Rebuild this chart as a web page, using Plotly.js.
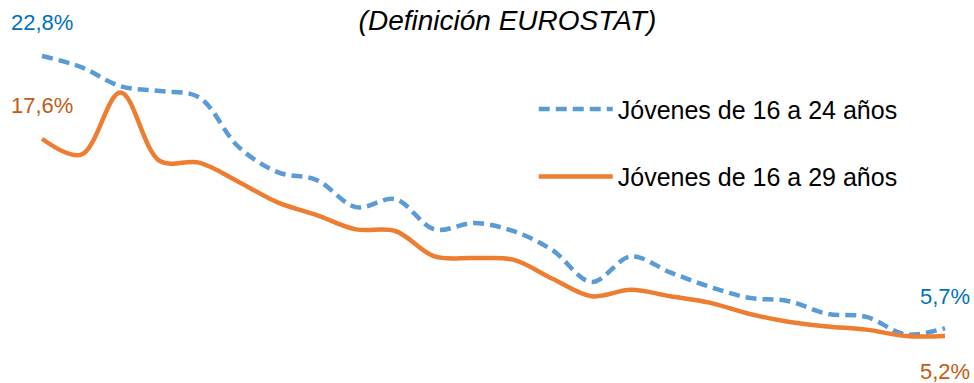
<!DOCTYPE html>
<html>
<head>
<meta charset="utf-8">
<script src="https://cdn.plot.ly/plotly-3.0.1.min.js"></script>
<style>html,body{margin:0;padding:0;background:#fff}#chart{width:974px;height:383px}</style>
</head>
<body>
<div id="chart"></div>
<script>
// Periods (24 consecutive observations)
var periodos = [1,2,3,4,5,6,7,8,9,10,11,12,13,14,15,16,17,18,19,20,21,22,23,24];
// Jóvenes de 16 a 24 años (%)
var jovenes16a24 = [22.8,22.1,20.9,20.6,20.2,17.1,15.5,15.0,13.3,13.8,11.9,12.3,11.8,10.6,8.6,10.2,9.2,8.3,7.6,7.4,6.6,6.4,5.3,5.7];
// Jóvenes de 16 a 29 años (%)
var jovenes16a29 = [17.6,16.6,20.5,16.2,16.1,14.9,13.6,12.8,11.9,11.8,10.2,10.1,10.0,8.8,7.7,8.1,7.7,7.3,6.6,6.1,5.8,5.6,5.2,5.2];
var nombres = ["Jóvenes de 16 a 24 años", "Jóvenes de 16 a 29 años"];
var titulo = "(Definición EUROSTAT)";

function etiqueta(v){ return v.toFixed(1).replace(".", ",") + "%"; }

var azul = "#5B9BD5", naranja = "#ED7D31";
var n = periodos.length;

var traces = [
  {x: periodos, y: jovenes16a24, name: nombres[0], type: "scatter", mode: "lines",
   line: {color: azul, width: 4.5, dash: "11px,6px", shape: "spline", smoothing: 1}, legendgroup: "a"},
  {x: periodos, y: jovenes16a29, name: nombres[1], type: "scatter", mode: "lines",
   line: {color: naranja, width: 4.5, shape: "spline", smoothing: 1}, legendgroup: "b"}
];

var labFont = {family: "Liberation Sans, Arial, sans-serif", size: 22};
var annotations = [
  {x: periodos[0], y: jovenes16a24[0], text: etiqueta(jovenes16a24[0]), showarrow: false, yshift: 34, font: Object.assign({}, labFont, {color: "#0070C0"})},
  {x: periodos[0], y: jovenes16a29[0], text: etiqueta(jovenes16a29[0]), showarrow: false, yshift: 33, font: Object.assign({}, labFont, {color: "#C55A11"})},
  {x: periodos[n-1], y: jovenes16a24[n-1], text: etiqueta(jovenes16a24[n-1]), showarrow: false, yshift: 32, font: Object.assign({}, labFont, {color: "#0070C0"})},
  {x: periodos[n-1], y: jovenes16a29[n-1], text: etiqueta(jovenes16a29[n-1]), showarrow: false, yshift: -36, font: Object.assign({}, labFont, {color: "#C55A11"})}
];

var layout = {
  width: 974, height: 383,
  margin: {l: 0, r: 0, t: 0, b: 0, pad: 0},
  paper_bgcolor: "#fff", plot_bgcolor: "#fff",
  title: {text: titulo, x: 0.521, xanchor: "center", y: 0.948, yanchor: "middle", yref: "container",
          font: {family: "Liberation Sans, Arial, sans-serif", size: 28, style: "italic", color: "#000"}},
  xaxis: {range: [-0.0698, 24.739], visible: false, showgrid: false, zeroline: false, fixedrange: true},
  yaxis: {range: [2.245, 26.32], visible: false, showgrid: false, zeroline: false, fixedrange: true},
  showlegend: true,
  legend: {x: 0.548, xanchor: "left", y: 0.627, yanchor: "middle", bgcolor: "rgba(0,0,0,0)",
           font: {family: "Liberation Sans, Arial, sans-serif", size: 25, color: "#000"},
           itemwidth: 74, tracegroupgap: 32, traceorder: "grouped"},
  annotations: annotations
};

Plotly.newPlot("chart", traces, layout, {displayModeBar: false, staticPlot: true});
</script>
</body>
</html>
